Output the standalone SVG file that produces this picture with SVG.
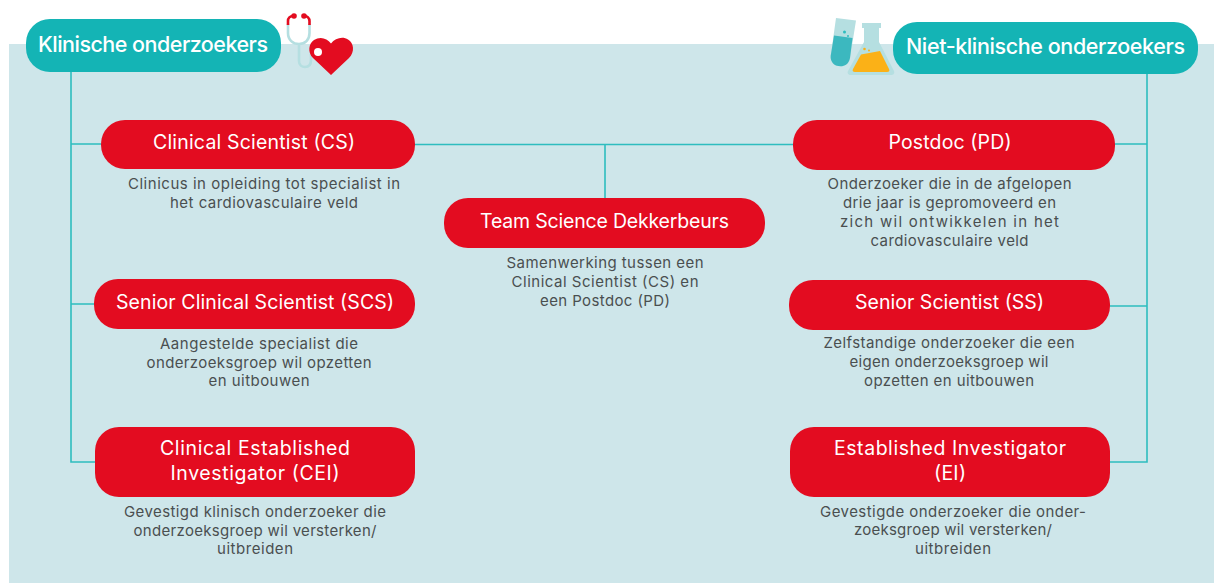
<svg xmlns="http://www.w3.org/2000/svg" width="1214" height="583" viewBox="0 0 1214 583">
<style>
text{font-family:Inter,"Open Sans","Liberation Sans",sans-serif;text-anchor:middle}
.h{fill:#fff;font-size:21.500px;font-weight:500}
.n{fill:#fff;font-size:19.500px;font-weight:400}
.d{fill:#4a4f50;font-size:15px;font-weight:400}
.t{fill:#14b4b5}
.r{fill:#e30c20}
.c{fill:none;stroke:#2ebdbf;stroke-width:1.6}
</style>
<rect width="1214" height="583" fill="#fff"/>
<rect x="9" y="44" width="1205" height="539" fill="#cee6ea"/>
<g id="connectors" class="c">
<path d="M71 72V462H95M71 144H101M71 304H94"/>
<path d="M1147 74V462H1110M1147 144H1115M1147 306H1110"/>
<path d="M415 144.500H793M605 144V198"/>
</g>
<g id="icon-stethoscope">
<path d="M288 24V33C288 40 293 44 299 44C305 44 309.500 40 309.500 33V24M299 44V61C299 65 302 67 305 67C309 67 311 64 311 60V54" fill="none" stroke="#b5dfe1" stroke-width="2.600"/>
<path d="M288 25V21C288 18 290 16 293 16M309.500 25V21C309.500 18 307 16 305 16" fill="none" stroke="#e30c20" stroke-width="2.600"/>
<circle cx="294" cy="16" r="2.800" fill="#e30c20"/><circle cx="304" cy="16" r="2.800" fill="#e30c20"/>
<path d="M331 75L313 58C307 52 309 43 314 40C320 36 327 38 331 43.500C335 38 343 36 348 39.500C354 43 355 52 349 58Z" class="r"/>
<circle cx="318" cy="52" r="4" fill="#fff"/>
</g>
<g id="icon-lab">
<path d="M836 18L856 20.500L850 58C848 67 841 67 836 65.500C831 63 830 58 831 54Z" fill="#b5dfe1"/>
<path d="M834 35.500L852.500 38L850 58C848 67 841 67 836 65.500C831 63 830 58 831 54Z" fill="#3cb8bf"/>
<circle cx="844.500" cy="32" r="1.500" fill="#2ebdbf"/><circle cx="848" cy="36" r="1" fill="#2ebdbf"/>
<path d="M862 23H881V28H879V42L894 71C895 74 893 75 891 75H851C848 75 847 73 848 71L864 42V28H862Z" fill="#b5dfe1"/>
<path d="M861 54.500L880 51L889 69C890 71 889 72 887 72H855C853 72 852 71 853 69Z" fill="#fbb117"/>
<circle cx="864.500" cy="49" r="1.300" fill="#fbb117"/><circle cx="869" cy="50.500" r="1" fill="#fbb117"/>
</g>
<g id="klinisch"><rect x="26" y="19" width="255" height="53" rx="24" class="t"/><text class="h" x="153" y="52" textLength="230">Klinische onderzoekers</text></g>
<g id="niet-klinisch"><rect x="893" y="22" width="305" height="52" rx="24" class="t"/><text class="h" x="1045.500" y="54" textLength="279">Niet-klinische onderzoekers</text></g>
<g id="cs"><rect x="101" y="120" width="314" height="49" rx="24" class="r"/><text class="n" x="254" y="149" textLength="202">Clinical Scientist (CS)</text>
<text class="d" x="264" y="189" textLength="272">Clinicus in opleiding tot specialist in</text><text class="d" x="264" y="208" textLength="188">het cardiovasculaire veld</text></g>
<g id="scs"><rect x="94" y="279" width="321" height="50" rx="24" class="r"/><text class="n" x="255" y="309" textLength="278">Senior Clinical Scientist (SCS)</text>
<text class="d" x="259" y="349" textLength="198">Aangestelde specialist die</text><text class="d" x="259" y="368" textLength="225">onderzoeksgroep wil opzetten</text><text class="d" x="259" y="386" textLength="101">en uitbouwen</text></g>
<g id="cei"><rect x="95" y="427" width="320" height="70" rx="24" class="r"/><text class="n" x="255" y="455" textLength="190">Clinical Established</text><text class="n" x="255" y="480" textLength="169">Investigator (CEI)</text>
<text class="d" x="255" y="517" textLength="262">Gevestigd klinisch onderzoeker die</text><text class="d" x="255" y="536" textLength="243">onderzoeksgroep wil versterken/</text><text class="d" x="255" y="554" textLength="76">uitbreiden</text></g>
<g id="team"><rect x="444" y="198" width="321" height="50" rx="24" class="r"/><text class="n" x="604.500" y="228" textLength="249">Team Science Dekkerbeurs</text>
<text class="d" x="605" y="268" textLength="197">Samenwerking tussen een</text><text class="d" x="605" y="287" textLength="187">Clinical Scientist (CS) en</text><text class="d" x="605" y="306" textLength="130">een Postdoc (PD)</text></g>
<g id="pd"><rect x="793" y="120" width="322" height="50" rx="24" class="r"/><text class="n" x="950" y="149" textLength="123">Postdoc (PD)</text>
<text class="d" x="949.500" y="189" textLength="244">Onderzoeker die in de afgelopen</text><text class="d" x="949.500" y="208" textLength="213">drie jaar is gepromoveerd en</text><text class="d" x="949.500" y="227" textLength="219">zich wil ontwikkelen in het</text><text class="d" x="949.500" y="246" textLength="158">cardiovasculaire veld</text></g>
<g id="ss"><rect x="789" y="280" width="321" height="50" rx="24" class="r"/><text class="n" x="949.500" y="309" textLength="189">Senior Scientist (SS)</text>
<text class="d" x="949" y="348" textLength="251">Zelfstandige onderzoeker die een</text><text class="d" x="949" y="367" textLength="199">eigen onderzoeksgroep wil</text><text class="d" x="949" y="386" textLength="170">opzetten en uitbouwen</text></g>
<g id="ei"><rect x="790" y="427" width="320" height="70" rx="24" class="r"/><text class="n" x="950" y="455" textLength="232">Established Investigator</text><text class="n" x="950" y="480" textLength="32">(EI)</text>
<text class="d" x="953" y="517" textLength="266">Gevestigde onderzoeker die onder-</text><text class="d" x="953" y="535" textLength="198">zoeksgroep wil versterken/</text><text class="d" x="953" y="554" textLength="76">uitbreiden</text></g>
</svg>
